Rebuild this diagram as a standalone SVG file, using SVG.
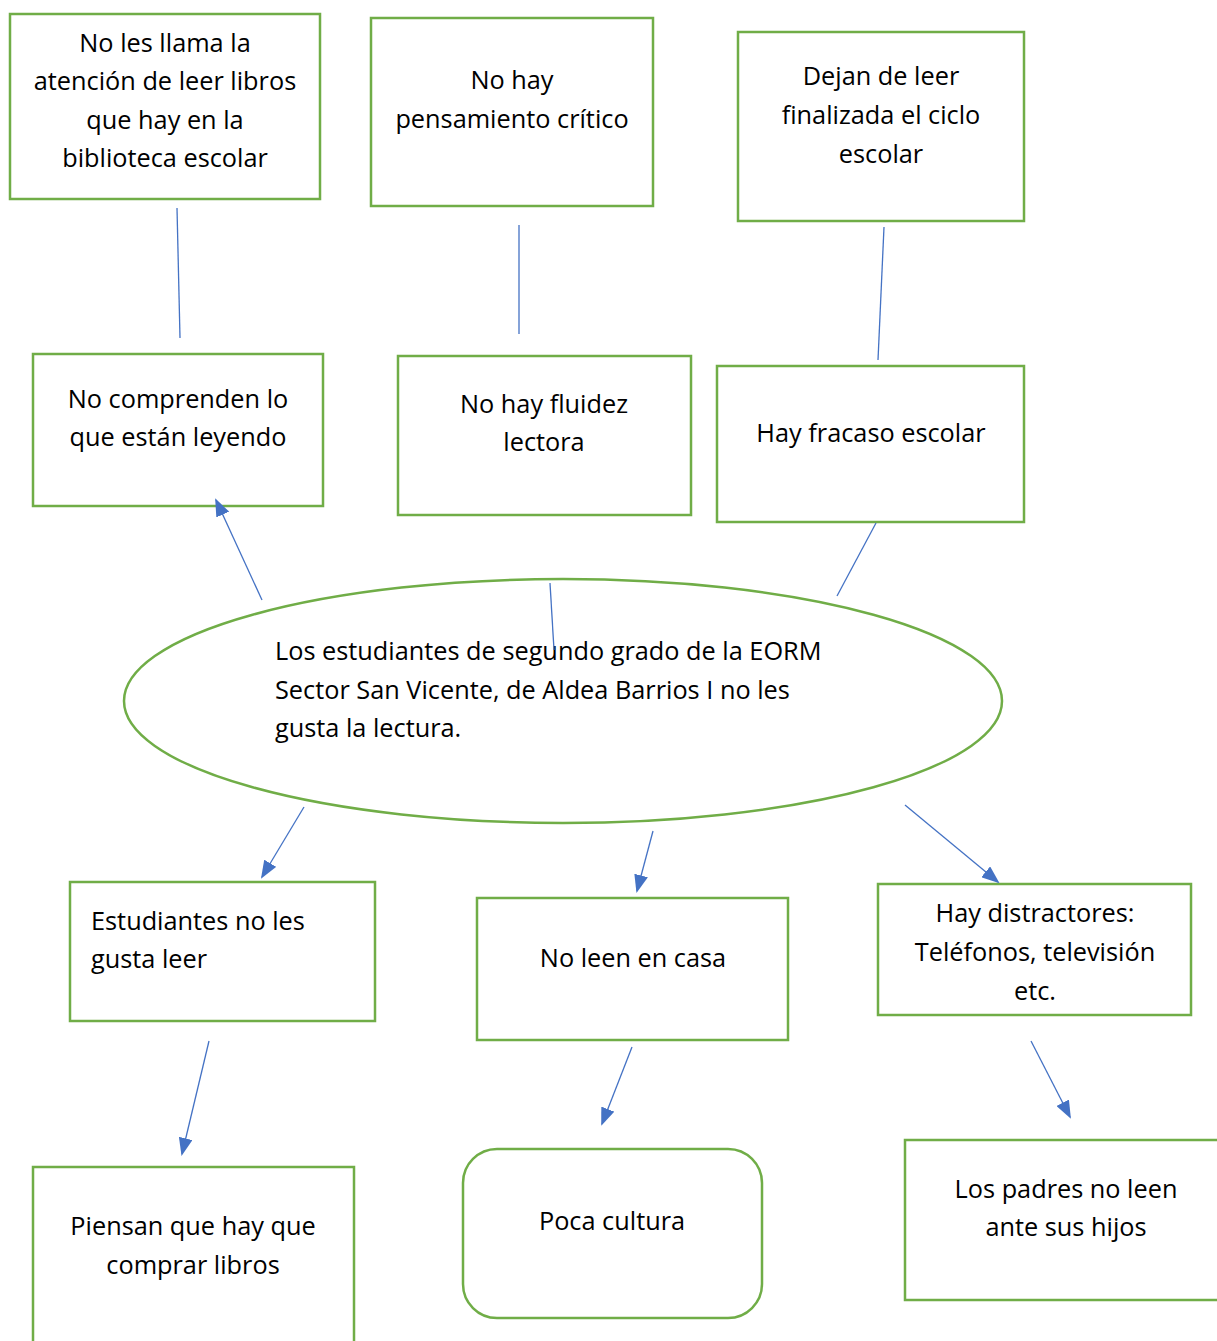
<svg xmlns="http://www.w3.org/2000/svg" width="1217" height="1341" viewBox="0 0 1217 1341">
<style>
.b{fill:#fff;stroke:#70AD47;stroke-width:2.5}
.t{font-family:"Open Sans","Noto Sans",sans-serif;font-size:25.3px;fill:#000;text-anchor:middle}
.l{text-anchor:start}
.c{stroke:#4472C4;stroke-width:1.3;fill:none}
.a{marker-end:url(#ah)}
</style>
<defs>
<marker id="ah" markerUnits="userSpaceOnUse" markerWidth="18" markerHeight="14" refX="16" refY="7" orient="auto" viewBox="0 0 18 14">
<path d="M0,0 L18,7 L0,14 Z" fill="#4472C4"/>
</marker>
</defs>
<rect width="1217" height="1341" fill="#fff"/>
<g id="n1"><rect class="b" x="10" y="14" width="310" height="185"/>
<text class="t"><tspan x="165" y="52">No les llama la</tspan><tspan x="165" y="90">atención de leer libros</tspan><tspan x="165" y="129">que hay en la</tspan><tspan x="165" y="167">biblioteca escolar</tspan></text></g>
<g id="n2"><rect class="b" x="371" y="18" width="282" height="188"/>
<text class="t"><tspan x="512" y="89">No hay</tspan><tspan x="512" y="128">pensamiento crítico</tspan></text></g>
<g id="n3"><rect class="b" x="738" y="32" width="286" height="189"/>
<text class="t"><tspan x="881" y="85">Dejan de leer</tspan><tspan x="881" y="124">finalizada el ciclo</tspan><tspan x="881" y="163">escolar</tspan></text></g>
<g id="n4"><rect class="b" x="33" y="354" width="290" height="152"/>
<text class="t"><tspan x="178" y="408">No comprenden lo</tspan><tspan x="178" y="446">que están leyendo</tspan></text></g>
<g id="n5"><rect class="b" x="398" y="356" width="293" height="159"/>
<text class="t"><tspan x="544" y="413">No hay fluidez</tspan><tspan x="544" y="451">lectora</tspan></text></g>
<g id="n6"><rect class="b" x="717" y="366" width="307" height="156"/>
<text class="t"><tspan x="871" y="442">Hay fracaso escolar</tspan></text></g>
<g id="n7"><ellipse class="b" cx="563" cy="701" rx="439" ry="122"/>
<text class="t l"><tspan x="275" y="660">Los estudiantes de segundo grado de la EORM</tspan><tspan x="275" y="699">Sector San Vicente, de Aldea Barrios I no les</tspan><tspan x="275" y="737">gusta la lectura.</tspan></text></g>
<g id="n8"><rect class="b" x="70" y="882" width="305" height="139"/>
<text class="t l"><tspan x="91" y="930">Estudiantes no les</tspan><tspan x="91" y="968">gusta leer</tspan></text></g>
<g id="n9"><rect class="b" x="477" y="898" width="311" height="142"/>
<text class="t"><tspan x="633" y="967">No leen en casa</tspan></text></g>
<g id="n10"><rect class="b" x="878" y="884" width="313" height="131"/>
<text class="t"><tspan x="1035" y="922">Hay distractores:</tspan><tspan x="1035" y="961">Teléfonos, televisión</tspan><tspan x="1035" y="1000">etc.</tspan></text></g>
<g id="n11"><rect class="b" x="33" y="1167" width="321" height="190"/>
<text class="t"><tspan x="193" y="1235">Piensan que hay que</tspan><tspan x="193" y="1274">comprar libros</tspan></text></g>
<g id="n12"><rect class="b" x="463" y="1149" width="299" height="169" rx="34"/>
<text class="t"><tspan x="612" y="1230">Poca cultura</tspan></text></g>
<g id="n13"><rect class="b" x="905" y="1140" width="330" height="160"/>
<text class="t"><tspan x="1066" y="1198">Los padres no leen</tspan><tspan x="1066" y="1236">ante sus hijos</tspan></text></g>
<g id="connectors">
<line class="c" x1="177" y1="208" x2="180" y2="338"/>
<line class="c" x1="519" y1="225" x2="519" y2="334"/>
<line class="c" x1="884" y1="227" x2="878" y2="360"/>
<line class="c a" x1="262" y1="600" x2="216" y2="500"/>
<line class="c" x1="550" y1="583" x2="554" y2="650"/>
<line class="c" x1="876" y1="523" x2="837" y2="596"/>
<line class="c a" x1="304" y1="807" x2="262" y2="877"/>
<line class="c a" x1="653" y1="831" x2="637" y2="891"/>
<line class="c a" x1="905" y1="805" x2="998" y2="882"/>
<line class="c a" x1="209" y1="1041" x2="182" y2="1154"/>
<line class="c a" x1="632" y1="1047" x2="602" y2="1124"/>
<line class="c a" x1="1031" y1="1041" x2="1070" y2="1117"/>
</g>
</svg>
